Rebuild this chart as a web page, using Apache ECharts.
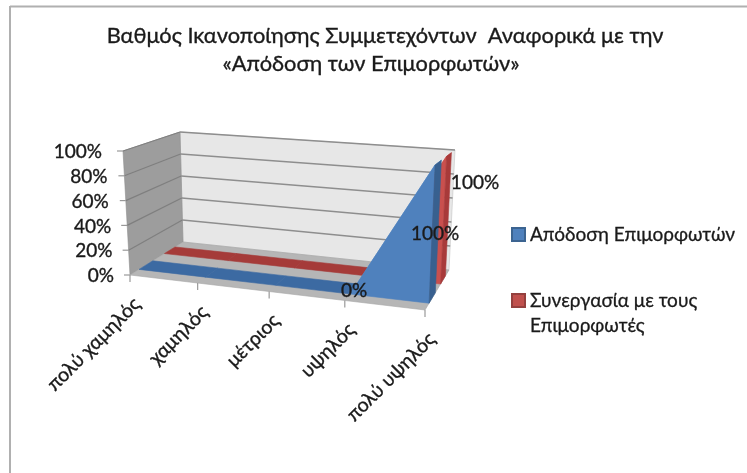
<!DOCTYPE html>
<html>
<head>
<meta charset="utf-8">
<style>html,body{margin:0;padding:0;background:#fff}#c{width:747px;height:473px}</style>
<script src="https://cdn.jsdelivr.net/npm/echarts@6/dist/echarts.min.js"></script>
</head>
<body>
<div id="c"></div>
<script>
const categories = ['πολύ χαμηλός','χαμηλός','μέτριος','υψηλός','πολύ υψηλός'];
const apodosi = [0,0,0,0,100];
const synergasia = [0,0,0,0,100];
const yTicks = [0,20,40,60,80,100];
const titleText = 'Βαθμός Ικανοποίησης Συμμετεχόντων  Αναφορικά με την\n«Απόδοση των Επιμορφωτών»     ';
const nameA = 'Απόδοση Επιμορφωτών';
const nameB = 'Συνεργασία με τους\nΕπιμορφωτές';

const FONT = 'Lato, "Open Sans", "Noto Sans", sans-serif';
const INK = '#1a1a1a';
const G = {l:130, r:425, t:151, b:275};
// corners of the oblique box on screen: front/back, bottom/top, left/right
const C = {
  fbl:[130,275], ftl:[123,151], fbr:[425,310], ftr:[431,168],
  bbl:[183,242], btl:[180,132], bbr:[449,270], btr:[455,150]
};
const lerp=(a,b,t)=>[a[0]+(b[0]-a[0])*t,a[1]+(b[1]-a[1])*t];
// turns a point from the flat cartesian grid into the oblique view at a given depth
function proj(pt,d){
  const u=(pt[0]-G.l)/(G.r-G.l), v=(G.b-pt[1])/(G.b-G.t);
  const f=u/(u+1.12*(1-u));
  const fb=lerp(C.fbl,C.fbr,f), ft=lerp(C.ftl,C.ftr,f);
  const bb=lerp(C.bbl,C.bbr,f), bt=lerp(C.btl,C.btr,f);
  return lerp(lerp(fb,bb,d),lerp(ft,bt,d),v);
}
const poly=(points,fill,stroke)=>({type:'polygon',shape:{points},style:{fill,stroke:stroke||fill,lineWidth:0.6}});
const line=(a,b,stroke,w)=>({type:'line',shape:{x1:a[0],y1:a[1],x2:b[0],y2:b[1]},style:{stroke,lineWidth:w||1.4}});
const text=(p,t,o)=>({type:'text',x:p[0],y:p[1],rotation:o.rot||0,style:{text:t,fontFamily:FONT,fill:INK,stroke:INK,lineWidth:0.35,fontSize:o.size||16,align:o.align||'center',verticalAlign:'middle'}});

function renderBox(params,api){
  const last=categories.length-1, P=(c,v,d)=>proj(api.coord([c,v]),d);
  const kids=[];
  kids.push(poly([P(0,0,1),P(last,0,1),P(last,100,1),P(0,100,1)],'#e7e7e7','#c4c4c4'));
  kids.push(poly([P(0,0,0),P(0,0,1),P(0,100,1),P(0,100,0)],'#9d9d9d','#8f8f8f'));
  kids.push(poly([P(0,0,0),P(last,0,0),P(last,0,1),P(0,0,1)],'#b6b6b6','#a6a6a6'));
  yTicks.forEach(y=>{
    if(y>0){ kids.push(line(P(0,y,1),P(last,y,1),'#8e8e8e')); kids.push(line(P(0,y,0),P(0,y,1),'#7f7f7f',1.2)); }
    const a=P(0,y,0);
    kids.push(line(a,[a[0]-6,a[1]],'#999',1.2));
    kids.push(text([a[0]-21+(y===100?0:y>=60?4:5),a[1]+1],y+'%',{align:'right',size:19}));
  });
  categories.forEach((c,i)=>{
    const a=P(i,0,0);
    kids.push(line(a,[a[0],a[1]+7],'#999',1.2));
    kids.push(text([a[0]+7,a[1]+26],c,{align:'right',rot:Math.PI/4,size:19.5}));
  });
  return {type:'group',children:kids};
}
function renderArea(vals,d0,d1,cols){
  return function(params,api){
    const i=params.dataIndex, kids=[];
    const c=api.value(0), v=api.value(1);
    const P=(a,b,d)=>proj(api.coord([a,b]),d);
    if(i>0){
      const pv=vals[i-1], pc=c-1;
      kids.push(poly([P(pc,pv,d0),P(c,v,d0),P(c,v,d1),P(pc,pv,d1)],(v>pv)?cols.slope:cols.flat));
      if(v>0||pv>0) kids.push(poly([P(pc,0,d0),P(c,0,d0),P(c,v,d0),P(pc,pv,d0)],cols.front));
      if(i===vals.length-1) kids.push(poly([P(c,0,d0),P(c,0,d1),P(c,v,d1),P(c,v,d0)],cols.side));
    }
    return {type:'group',children:kids};
  };
}
const blue={front:'#4f81bd',slope:'#5f90c9',flat:'#3c6aa2',side:'#38608f'};
const red={front:'#c9504e',slope:'#cc5a58',flat:'#a53b39',side:'#a83a3a'};
const chart=echarts.init(document.getElementById('c'));
chart.setOption({
  animation:false,
  backgroundColor:'#fff',
  title:{text:titleText,left:385,textAlign:'center',top:22,padding:0,textStyle:{fontFamily:FONT,fontWeight:'normal',fontSize:21.8,lineHeight:28,color:INK,textBorderColor:INK,textBorderWidth:0.35}},
  grid:{left:G.l,top:G.t,width:G.r-G.l,height:G.b-G.t,containLabel:false},
  xAxis:{type:'category',data:categories,boundaryGap:false,show:false},
  yAxis:{type:'value',min:0,max:100,interval:20,show:false},
  legend:{orient:'vertical',left:511,top:222,padding:0,itemWidth:13,itemHeight:13,itemGap:16,icon:'rect',data:[nameA,nameB],
    selectedMode:false,
    formatter:n=>n===nameB?'\n'+n:n,
    textStyle:{fontFamily:FONT,fontSize:19,lineHeight:25,color:INK,textBorderColor:INK,textBorderWidth:0.3}},
  series:[
    {type:'custom',name:'box',coordinateSystem:'cartesian2d',data:[[0,0]],encode:{x:0,y:1},renderItem:renderBox,silent:true,z:1},
    {type:'custom',name:nameB,coordinateSystem:'cartesian2d',data:synergasia.map((v,i)=>[i,v]),encode:{x:0,y:1},
     renderItem:renderArea(synergasia,0.65,0.85,red),itemStyle:{color:'#c0504d',borderColor:'#94403e',borderWidth:1},silent:true,z:2},
    {type:'custom',name:nameA,coordinateSystem:'cartesian2d',data:apodosi.map((v,i)=>[i,v]),encode:{x:0,y:1},
     renderItem:renderArea(apodosi,0.17,0.43,blue),itemStyle:{color:'#4f81bd',borderColor:'#3c6491',borderWidth:1},silent:true,z:3},
    {type:'custom',name:'labels',coordinateSystem:'cartesian2d',data:[[3,apodosi[3],0.17,4,-3],[4,apodosi[4],0.17,0,69],[4,synergasia[4],0.75,26,28]],encode:{x:0,y:1},silent:true,z:4,
     renderItem:function(params,api){
       const c=api.value(0),v=api.value(1),d=api.value(2);
       const top=proj(api.coord([c,v]),d);
       return text([top[0]+api.value(3),top[1]+api.value(4)],v+'%',{size:19});
     }}
  ],
  graphic:[
    {type:'line',silent:true,shape:{x1:10,y1:6.5,x2:747,y2:6.5},style:{stroke:'#b0b0b0',lineWidth:2}},
    {type:'line',silent:true,shape:{x1:10,y1:6,x2:10,y2:473},style:{stroke:'#b0b0b0',lineWidth:2}}
  ]
});
</script>
</body>
</html>
